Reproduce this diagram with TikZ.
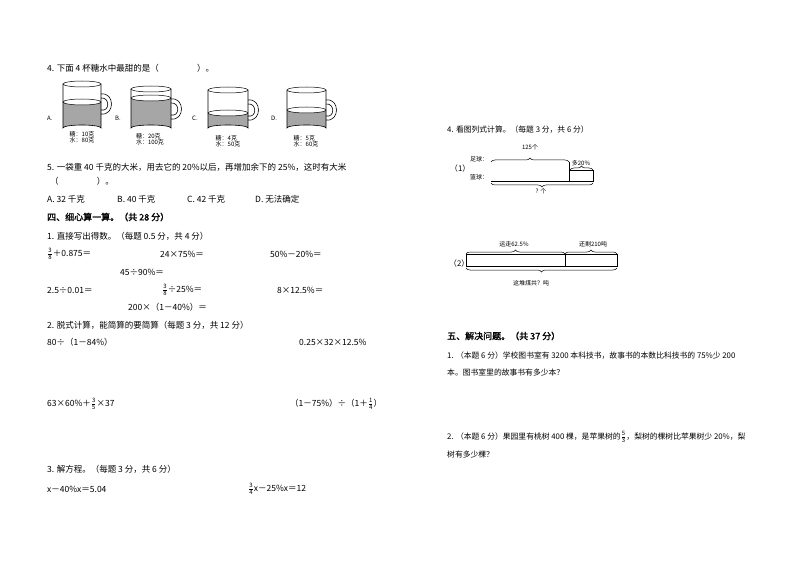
\documentclass[tikz,border=0pt]{standalone}
\usepackage{amsmath}
\usepackage{fontspec}
\setmainfont{Noto Sans CJK SC}
\newfontfamily\cjkb[FakeBold=1.5]{Noto Sans CJK SC}
\usetikzlibrary{decorations.pathreplacing}
\newcommand{\fr}[2]{$\genfrac{}{}{0.4pt}{1}{\mbox{\fontsize{6}{6}\selectfont #1}}{\mbox{\fontsize{6}{6}\selectfont #2}}$}
\begin{document}
\begin{tikzpicture}[x=1pt,y=-1pt,
  t/.style={anchor=west,inner sep=0,font=\fontsize{8.5}{9}\selectfont},
  tr/.style={anchor=west,inner sep=0,font=\fontsize{7.8}{8.5}\selectfont},
  h/.style={anchor=west,inner sep=0,font=\fontsize{9}{10}\cjkb},
  sm/.style={inner sep=0,font=\fontsize{6}{6.5}\selectfont,align=left},
  br/.style={decorate,decoration={brace,amplitude=4pt},line width=0.5pt},
  brd/.style={decorate,decoration={brace,mirror,amplitude=4pt},line width=0.5pt}]
\fill[white] (0,0) rectangle (794,561);
\useasboundingbox (0,0) rectangle (794,561);
\node[t] (q4) at (47,68) {4. 下面 4 杯糖水中最甜的是（\hspace{4.5em}）。};
% cups
\foreach \n/\xa/\xb/\yt/\yw/\lab/\s/\w/\lx/\ly in {A/63/101/84/102/A./10/80/82/137, B/131/171/89/98/B./20/100/150/139, C/208/248/90/113/C./4/50/228/141, D/287/326/90/110/D./5/60/306/141}{
  \pgfmathsetmacro{\rx}{(\xb-\xa)/2}
  \pgfmathsetmacro{\cx}{(\xb+\xa)/2}
  \fill[gray!70] (\xa,\yw) -- (\xa,128) arc[start angle=180,end angle=360,x radius=\rx,y radius=3] -- (\xb,\yw) arc[start angle=0,end angle=180,x radius=\rx,y radius=3] -- cycle;
  \draw[line width=0.5pt] (\cx,\yw) ellipse[x radius=\rx,y radius=3];
  \draw[line width=0.5pt] (\cx,\yt) ellipse[x radius=\rx,y radius=3];
  \draw[line width=0.6pt] (\xa,\yt) -- (\xa,128) arc[start angle=180,end angle=360,x radius=\rx,y radius=3] -- (\xb,\yt);
  \draw[line width=0.6pt] (\xb,{\yt+10}) .. controls ({\xb+14},{\yt+8}) and ({\xb+14},{\yt+32}) .. (\xb,{\yt+30});
  \draw[line width=0.6pt] (\xb,{\yt+14}) .. controls ({\xb+9},{\yt+13}) and ({\xb+9},{\yt+28}) .. (\xb,{\yt+26});
  \node[sm,anchor=west] (l\n) at ({\xa-16},118) {\lab};
  \node[sm] (s\n) at (\lx,\ly) {糖：\s 克\\水：\w 克};
}
\node[t] (q5) at (47,167) {5. 一袋重 40 千克的大米，用去它的 20\%以后，再增加余下的 25\%，这时有大米};
\node[t] (q5b) at (50,181) {（\hspace{4.5em}）。};
\node[t] (o1) at (47,199) {A. 32 千克};
\node[t] (o2) at (117,199) {B. 40 千克};
\node[t] (o3) at (187,199) {C. 42 千克};
\node[t] (o4) at (255,199) {D. 无法确定};
\node[h] (s4) at (47,217) {四、细心算一算。（共 28 分）};
\node[t] (p1) at (47,236) {1. 直接写出得数。（每题 0.5 分，共 4 分）};
\node[t] (a1) at (47,254) {\fr38＋0.875＝};
\node[t] (a2) at (160,254) {24×75\%＝};
\node[t] (a3) at (270,254) {50\%－20\%＝};
\node[t] (a4) at (120,272) {45÷90\%＝};
\node[t] (a5) at (47,290) {2.5÷0.01＝};
\node[t] (a6) at (162,290) {\fr38÷25\%＝};
\node[t] (a7) at (277,290) {8×12.5\%＝};
\node[t] (a8) at (128,307) {200×（1－40\%）＝};
\node[t] (p2) at (47,325) {2. 脱式计算，能简算的要简算（每题 3 分，共 12 分）};
\node[t] (b1) at (47,342) {80÷（1－84\%）};
\node[t] (b2) at (299,342) {0.25×32×12.5\%};
\node[t] (b3) at (47,404) {63×60\%＋\fr35×37};
\node[t] (b4) at (290,404) {（1－75\%）÷（1＋\fr14）};
\node[t] (p3) at (47,469) {3. 解方程。（每题 3 分，共 6 分）};
\node[t] (e1) at (47,489) {x－40\%x＝5.04};
\node[t] (e2) at (248,489) {\fr34x－25\%x＝12};
% right
\node[tr] (r4) at (447,130) {4. 看图列式计算。（每题 3 分，共 6 分）};
\node[tr] (n1) at (450,169) {（1）};
\node[sm,anchor=west] (fb) at (470,159) {足球：};
\node[sm,anchor=west] (bb) at (470,177) {篮球：};
\draw[br] (491,162) -- (569,162);
\draw[line width=0.5pt] (491,181) -- (593,181) -- (593,170) -- (569,170) -- (569,181);
\draw[line width=0.5pt] (569,162) -- (569,181);
\draw[br] (570,170) -- (593,170);
\draw[brd] (491,183) -- (593,183);
\node[sm] (c125) at (530,147) {125个};
\node[sm] (c20) at (581,163) {多20\%};
\node[sm] (cq) at (541,191) {? 个};
\node[tr] (n2) at (449,264) {（2）};
\draw[line width=0.5pt] (466,254) rectangle (617,266);
\draw[line width=0.5pt] (565,254) -- (565,266);
\draw[br] (466,254) -- (565,254);
\draw[br] (565,254) -- (617,254);
\draw[brd] (466,268) -- (617,268);
\node[sm] (d1) at (514,244) {运走62.5\%};
\node[sm] (d2) at (593,244) {还剩210吨};
\node[sm] (d3) at (531,283) {这堆煤共？吨};
\node[h] (s5) at (447,336) {五、解决问题。（共 37 分）};
\node[tr] (w1) at (447,356) {1. （本题 6 分）学校图书室有 3200 本科技书，故事书的本数比科技书的 75\%少 200};
\node[tr] (w1b) at (447,373) {本。图书室里的故事书有多少本？};
\node[tr] (w2) at (447,437) {2. （本题 6 分）果园里有桃树 400 棵，是苹果树的\fr53，梨树的棵树比苹果树少 20\%，梨};
\node[tr] (w2b) at (447,455) {树有多少棵？};
\end{tikzpicture}
\end{document}
